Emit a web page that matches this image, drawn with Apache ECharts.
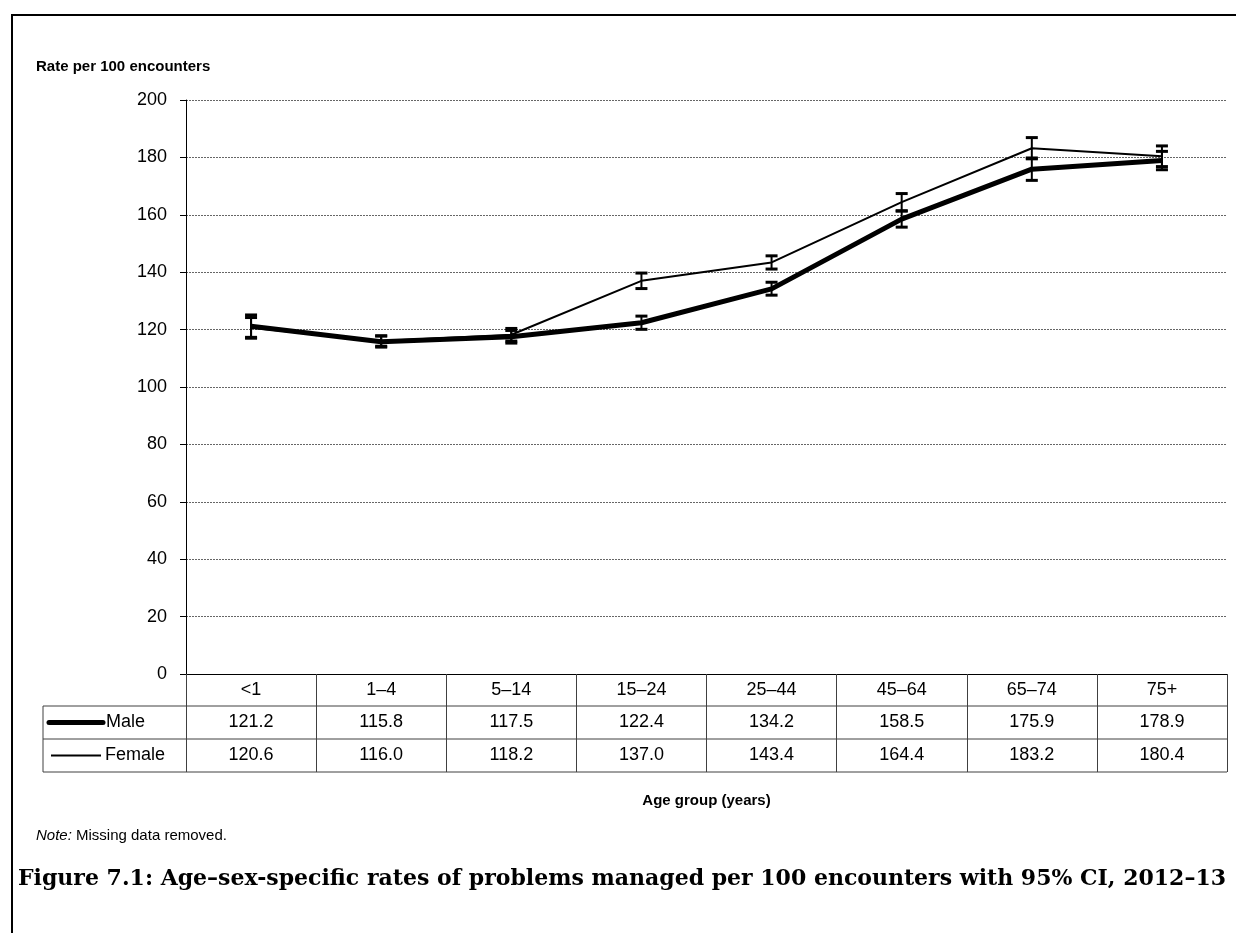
<!DOCTYPE html>
<html><head><meta charset="utf-8">
<script src="https://cdn.jsdelivr.net/npm/echarts@6/dist/echarts.min.js"></script>
<style>html,body{margin:0;padding:0;background:#fff}#c{width:1236px;height:933px}</style>
</head><body><div id="c"></div>
<script>
const categories = ['<1', '1–4', '5–14', '15–24', '25–44', '45–64', '65–74', '75+'];
const maleRate   = [121.2, 115.8, 117.5, 122.4, 134.2, 158.5, 175.9, 178.9];
const femaleRate = [120.6, 116.0, 118.2, 137.0, 143.4, 164.4, 183.2, 180.4];
const maleLow    = [117.3, 113.9, 115.3, 120.1, 132.0, 155.7, 172.0, 175.7];
const maleHigh   = [125.1, 117.8, 119.7, 124.7, 136.5, 161.3, 179.8, 182.1];
const femaleLow  = [117.0, 114.2, 116.0, 134.3, 141.1, 161.4, 179.5, 176.8];
const femaleHigh = [124.2, 117.8, 120.4, 139.7, 145.7, 167.4, 186.9, 184.0];
const yMin = 0, yMax = 200, yInterval = 20;
const seriesNames = ['Male', 'Female'];

const FONT = "'Liberation Sans', Arial, sans-serif";
const FS = 18;
const chart = echarts.init(document.getElementById('c'), null, {renderer: 'canvas'});

function errData(low, high) { return categories.map((c, i) => [i, low[i], high[i]]); }
function errRender(params, api) {
  const x = api.value(0);
  const lo = api.coord([x, api.value(1)]);
  const hi = api.coord([x, api.value(2)]);
  const hw = 6;
  const st = {stroke: '#000', lineWidth: 3};
  return {type: 'group', children: [
    {type: 'line', shape: {x1: lo[0], y1: lo[1], x2: hi[0], y2: hi[1]}, style: {stroke: '#000', lineWidth: 2}},
    {type: 'line', shape: {x1: lo[0] - hw, y1: lo[1], x2: lo[0] + hw, y2: lo[1]}, style: st},
    {type: 'line', shape: {x1: hi[0] - hw, y1: hi[1], x2: hi[0] + hw, y2: hi[1]}, style: st}
  ]};
}

const GL = 186, GR = 9, GT = 100, GB = 259;
chart.setOption({
  animation: false,
  backgroundColor: '#fff',
  grid: {left: GL, right: GR, top: GT, bottom: GB},
  xAxis: {
    type: 'category', data: categories, boundaryGap: true,
    axisLine: {lineStyle: {color: '#000', width: 1}},
    axisTick: {show: true, inside: false, length: 98, lineStyle: {color: '#404040', width: 1}},
    axisLabel: {margin: 7, fontFamily: FONT, fontSize: FS, color: '#000'},
    splitLine: {show: false}
  },
  yAxis: {
    type: 'value', min: yMin, max: yMax, interval: yInterval,
    axisLine: {show: true, lineStyle: {color: '#000', width: 1}},
    axisTick: {show: true, length: 6, lineStyle: {color: '#000'}},
    axisLabel: {margin: 19, fontFamily: FONT, fontSize: FS, color: '#000'},
    splitLine: {show: true, lineStyle: {color: '#666', type: [2, 1], width: 1}}
  },
  series: [
    {name: seriesNames[1], type: 'line', data: femaleRate, showSymbol: false, symbol: 'none',
     lineStyle: {color: '#000', width: 2}, z: 2},
    {name: seriesNames[0], type: 'line', data: maleRate, showSymbol: false, symbol: 'none',
     lineStyle: {color: '#000', width: 5}, z: 3},
    {type: 'custom', data: errData(femaleLow, femaleHigh), renderItem: errRender, z: 4},
    {type: 'custom', data: errData(maleLow, maleHigh), renderItem: errRender, z: 4}
  ]
});

// Table and annotations
const xs = categories.map(c => chart.convertToPixel({xAxisIndex: 0}, c));
const yAxisBase = chart.convertToPixel({yAxisIndex: 0}, yMin);
const right = 1236 - GR;
const rowH = 33;
const r1 = yAxisBase + 32, r2 = r1 + rowH, r3 = r2 + rowH;
const tLeft = 43;

// Caption sizing
const cap = 'Figure 7.1: Age–sex-specific rates of problems managed per 100 encounters with 95% CI, 2012–13';
const capFont = "'DejaVu Serif', 'Liberation Serif', serif";
const mctx = document.createElement('canvas').getContext('2d');
mctx.font = 'bold 20px ' + capFont;
const capSize = Math.min(22, 20 * 1210 / mctx.measureText(cap).width);

const g = [];
g.push({type: 'polyline', shape: {points: [[12, 933], [12, 15], [1236, 15]]}, style: {stroke: '#000', lineWidth: 2, fill: null}});
[r1, r2, r3].forEach(y => g.push({type: 'line', shape: {x1: tLeft, y1: y, x2: right, y2: y}, style: {stroke: '#404040', lineWidth: 1}}));
g.push({type: 'line', shape: {x1: tLeft, y1: r1, x2: tLeft, y2: r3}, style: {stroke: '#404040', lineWidth: 1}});
// legend keys
g.push({type: 'line', shape: {x1: 49, y1: r1 + rowH / 2, x2: 103, y2: r1 + rowH / 2}, style: {stroke: '#000', lineWidth: 5, lineCap: 'round'}});
g.push({type: 'line', shape: {x1: 51, y1: r2 + rowH / 2, x2: 101, y2: r2 + rowH / 2}, style: {stroke: '#000', lineWidth: 2}});
g.push({type: 'text', x: 106, y: r1 + rowH / 2, style: {text: seriesNames[0], font: FS + 'px ' + FONT, fill: '#000', textVerticalAlign: 'middle', textAlign: 'left'}});
g.push({type: 'text', x: 105, y: r2 + rowH / 2, style: {text: seriesNames[1], font: FS + 'px ' + FONT, fill: '#000', textVerticalAlign: 'middle', textAlign: 'left'}});
xs.forEach((x, i) => {
  g.push({type: 'text', x: x, y: r1 + rowH / 2, style: {text: maleRate[i].toFixed(1), font: FS + 'px ' + FONT, fill: '#000', textAlign: 'center', textVerticalAlign: 'middle'}});
  g.push({type: 'text', x: x, y: r2 + rowH / 2, style: {text: femaleRate[i].toFixed(1), font: FS + 'px ' + FONT, fill: '#000', textAlign: 'center', textVerticalAlign: 'middle'}});
});
g.push({type: 'text', x: 36, y: 67, style: {text: 'Rate per 100 encounters', font: 'bold 15px ' + FONT, fill: '#000', textVerticalAlign: 'middle'}});
g.push({type: 'text', x: (GL + right) / 2, y: 801, style: {text: 'Age group (years)', font: 'bold 15px ' + FONT, fill: '#000', textAlign: 'center', textVerticalAlign: 'middle'}});
g.push({type: 'text', x: 36, y: 836, style: {
  text: '{i|Note:} Missing data removed.', font: '15px ' + FONT, fill: '#000', textVerticalAlign: 'middle',
  rich: {i: {fontStyle: 'italic', fontFamily: FONT, fontSize: 15}}}});
g.push({type: 'text', x: 18, y: 879, style: {text: cap, font: 'bold ' + capSize.toFixed(2) + 'px ' + capFont, fill: '#000', textVerticalAlign: 'middle'}});
chart.setOption({graphic: g});
</script></body></html>
